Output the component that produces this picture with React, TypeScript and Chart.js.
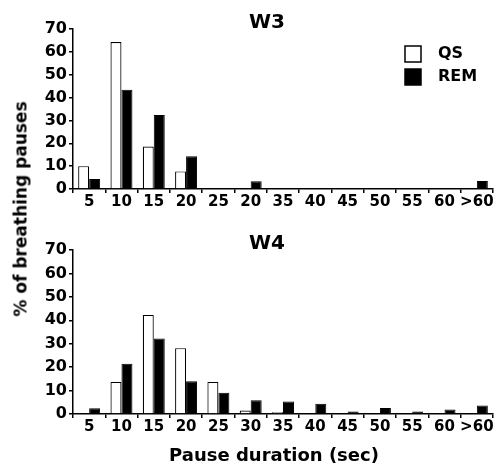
import React, { useEffect, useRef } from "react";
import { Chart, registerables } from "chart.js";

Chart.register(...registerables);

// Categories (tick labels) — the top panel's 6th label reads "20" in the original figure
const topLabels = ["5", "10", "15", "20", "25", "20", "35", "40", "45", "50", "55", "60", ">60"];
const bottomLabels = ["5", "10", "15", "20", "25", "30", "35", "40", "45", "50", "55", "60", ">60"];

// W3 panel (% of breathing pauses)
const w3QS = [10, 64.3, 18.6, 7.7, 0, 0, 0, 0, 0, 0, 0, 0, 0];
const w3REM = [4.4, 43.4, 32.4, 14.3, 0, 3.4, 0, 0, 0, 0, 0, 0, 3.5];

// W4 panel
const w4QS = [0, 13.7, 42.3, 28.1, 13.7, 1.5, 0.7, 0, 0, 0, 0, 0, 0];
const w4REM = [2.5, 21.4, 32.2, 14, 9.1, 5.9, 5.3, 4.4, 1.1, 2.6, 1.1, 1.9, 3.6];

const seriesNames = ["QS", "REM"];
const yMin = 0;
const yMax = 70;
const yStep = 10;

const FONT = "'DejaVu Sans', 'Liberation Sans', Arial, sans-serif";

const decorPlugin = {
  id: "decor",
  afterDraw(chart: any, _args: any, opts: any) {
    const { ctx, chartArea } = chart;
    ctx.save();
    ctx.fillStyle = "#000";
    ctx.textBaseline = "middle";
    if (opts.title) {
      ctx.font = `bold 20px ${FONT}`;
      ctx.textAlign = "center";
      ctx.fillText(opts.title, chartArea.left + 194, chartArea.top - 6);
    }
    if (opts.legend) {
      const ds = chart.data.datasets;
      const boxX = chartArea.right - 88;
      ds.forEach((d: any, i: number) => {
        const top = chartArea.top + 17 + i * 23;
        ctx.fillStyle = d.backgroundColor;
        ctx.fillRect(boxX, top, 16, 16);
        ctx.strokeStyle = "#000";
        ctx.lineWidth = 1.5;
        ctx.strokeRect(boxX, top, 16, 16);
        ctx.fillStyle = "#000";
        ctx.font = `bold 16px ${FONT}`;
        ctx.textAlign = "left";
        ctx.fillText(d.label, boxX + 33, top + 8);
      });
    }
    if (opts.xTitle) {
      ctx.fillStyle = "#000";
      ctx.font = `bold 18px ${FONT}`;
      ctx.textAlign = "center";
      ctx.fillText(opts.xTitle, chartArea.left + 201, chartArea.bottom + 42);
    }
    ctx.restore();
  },
};

function makeConfig(
  labels: string[],
  qs: number[],
  rem: number[],
  title: string,
  legend: boolean,
  padTop: number,
  xHeight: number,
  xTitle: string | null
): any {
  return {
    type: "bar",
    data: {
      labels,
      datasets: [
        {
          label: seriesNames[0],
          data: qs,
          backgroundColor: "#ffffff",
          borderColor: "#000000",
          borderWidth: 1.2,
          barPercentage: 1,
          categoryPercentage: 0.68,
        },
        {
          label: seriesNames[1],
          data: rem,
          backgroundColor: "#000000",
          borderColor: "#000000",
          borderWidth: 1,
          barPercentage: 1,
          categoryPercentage: 0.68,
        },
      ],
    },
    options: {
      responsive: false,
      animation: false,
      devicePixelRatio: 1,
      layout: { padding: { left: 30, right: 2, top: padTop, bottom: 0 } },
      plugins: {
        legend: { display: false },
        tooltip: { enabled: false },
        title: { display: false },
        decor: { title, legend, xTitle },
      },
      scales: {
        x: {
          grid: {
            display: true,
            drawOnChartArea: false,
            drawTicks: true,
            tickLength: 4,
            color: "#000",
            lineWidth: 1.5,
            offset: true,
          },
          border: { display: true, color: "#000", width: 1.5 },
          ticks: {
            color: "#000",
            font: { family: FONT, weight: "bold", size: 15 },
            padding: 0,
            maxRotation: 0,
            autoSkip: false,
          },
          afterFit: (s: any) => {
            s.height = xHeight;
          },
        },
        y: {
          min: yMin,
          max: yMax,
          grid: {
            display: true,
            drawOnChartArea: false,
            drawTicks: true,
            tickLength: 4,
            color: "#000",
            lineWidth: 1.5,
          },
          border: { display: true, color: "#000", width: 1.5 },
          ticks: {
            stepSize: yStep,
            color: "#000",
            font: { family: FONT, weight: "bold", size: 16 },
            padding: 2,
          },
          afterFit: (s: any) => {
            s.width = 43;
          },
        },
      },
    },
    plugins: [decorPlugin],
  };
}

export default function App() {
  const topRef = useRef<HTMLCanvasElement | null>(null);
  const botRef = useRef<HTMLCanvasElement | null>(null);

  useEffect(() => {
    const c1 = new Chart(
      topRef.current as HTMLCanvasElement,
      makeConfig(topLabels, w3QS, w3REM, "W3", true, 29, 26, null)
    );
    const c2 = new Chart(
      botRef.current as HTMLCanvasElement,
      makeConfig(bottomLabels, w4QS, w4REM, "W4", false, 35, 53, "Pause duration (sec)")
    );
    return () => {
      c1.destroy();
      c2.destroy();
    };
  }, []);

  return (
    <div
      style={{
        position: "absolute",
        left: 0,
        top: 0,
        width: 495,
        height: 467,
        background: "#fff",
        overflow: "hidden",
      }}
    >
      <canvas
        ref={topRef}
        width={495}
        height={215}
        style={{ position: "absolute", left: 0, top: 0, width: 495, height: 215 }}
      />
      <canvas
        ref={botRef}
        width={495}
        height={252}
        style={{ position: "absolute", left: 0, top: 215, width: 495, height: 252 }}
      />
      <div
        style={{
          position: "absolute",
          left: 21,
          top: 209,
          transform: "translate(-50%, -50%) rotate(-90deg)",
          whiteSpace: "nowrap",
          font: `bold 17px ${FONT}`,
          color: "#000",
          lineHeight: 1,
        }}
      >
        % of breathing pauses
      </div>
    </div>
  );
}
